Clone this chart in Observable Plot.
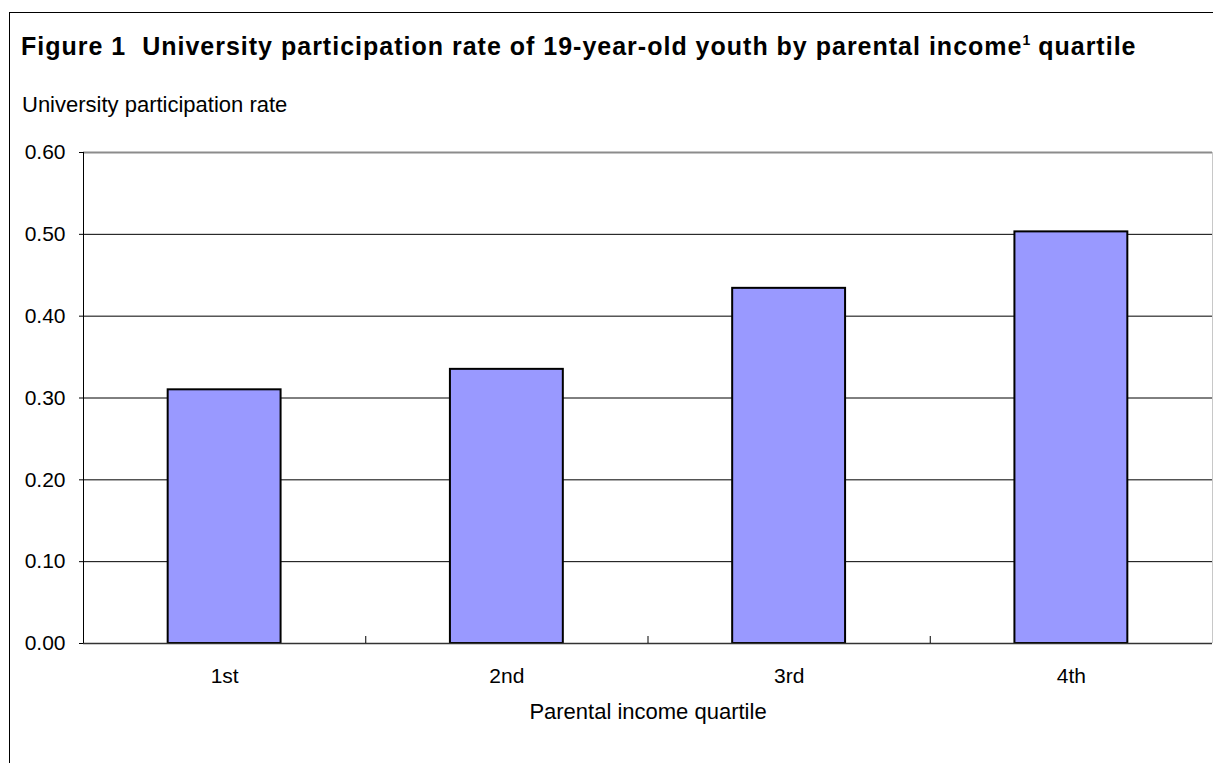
<!DOCTYPE html>
<html>
<head>
<meta charset="utf-8">
<script src="https://cdn.jsdelivr.net/npm/d3@7"></script>
<script src="https://cdn.jsdelivr.net/npm/@observablehq/plot@0.6"></script>
<style>
  html, body { margin: 0; padding: 0; background: #fff; }
  body { width: 1213px; height: 763px; position: relative; overflow: hidden; font-family: "Liberation Sans", Arial, sans-serif; color: #000; }
  #frame { position: absolute; left: 9px; top: 12px; width: 1210px; height: 760px; border-left: 1px solid #000; border-top: 1px solid #000; z-index: 5; pointer-events: none; }
  #title { position: absolute; left: 21px; top: 34px; font-size: 25px; letter-spacing: 1px; font-weight: bold; line-height: 25px; white-space: nowrap; }
  #title sup { font-size: 14px; letter-spacing: 0; line-height: 0; position: relative; top: -1px; }
  #ytitle { position: absolute; left: 22px; top: 94px; font-size: 22px; line-height: 22px; white-space: nowrap; }
  #chart { position: absolute; left: 0; top: 130px; }
  #chart svg { background: transparent !important; }
</style>
</head>
<body>
<div id="frame"></div>
<div id="title">Figure 1&nbsp; University participation rate of 19-year-old youth by parental income<sup>1</sup> quartile</div>
<div id="ytitle">University participation rate</div>
<div id="chart"></div>
<script>
const quartiles = ["1st", "2nd", "3rd", "4th"];
const rates = [0.31, 0.335, 0.434, 0.503];
const yTicks = [0, 0.1, 0.2, 0.3, 0.4, 0.5, 0.6];
const gridTicks = [0.1, 0.2, 0.3, 0.4, 0.5];
const xTitle = "Parental income quartile";

const gap = 0.6; // fraction of each category slot left empty
const boundaries = d3.range(1, quartiles.length);
const centers = quartiles.map((d, i) => i + 0.5);

const chart = Plot.plot({
  width: 1213,
  height: 633,
  marginLeft: 83,
  marginRight: 1,
  marginTop: 22,
  marginBottom: 120,
  style: { fontFamily: "'Liberation Sans', Arial, sans-serif", fontSize: "21px", color: "#000", background: "transparent" },
  x: { type: "linear", domain: [0, quartiles.length], axis: null },
  y: { domain: [0, 0.6], axis: null },
  marks: [
    Plot.ruleY(gridTicks, { stroke: "#000", strokeWidth: 1 }),
    Plot.ruleY([0.6], { stroke: "#8c8c8c", strokeWidth: 2 }),
    Plot.ruleX([quartiles.length], { stroke: "#c8c8c8", strokeWidth: 1 }),
    Plot.rectY(quartiles, {
      x1: (d, i) => i + gap / 2,
      x2: (d, i) => i + 1 - gap / 2,
      y1: 0,
      y2: (d, i) => rates[i],
      fill: "#9999FF",
      stroke: "#000",
      strokeWidth: 2
    }),
    Plot.ruleY([0], { stroke: "#333", strokeWidth: 1.5 }),
    Plot.ruleX([0], { stroke: "#000", strokeWidth: 1 }),
    Plot.ruleX(boundaries, { y1: 0, y2: 0, insetBottom: 7, stroke: "#000", strokeWidth: 1 }),
    Plot.axisY({ ticks: yTicks, tickFormat: d3.format(".2f"), tickSize: 4, tickPadding: 14, label: null, fontSize: 21 }),
    Plot.axisX({ ticks: centers, tickFormat: (d) => quartiles[Math.floor(d)], tickSize: 0, tickPadding: 25, label: null, fontSize: 21 }),
    Plot.text([xTitle], { text: (d) => d, frameAnchor: "bottom", dy: 75, fontSize: 22, textAnchor: "middle" })
  ]
});
document.getElementById("chart").appendChild(chart);
</script>
</body>
</html>
